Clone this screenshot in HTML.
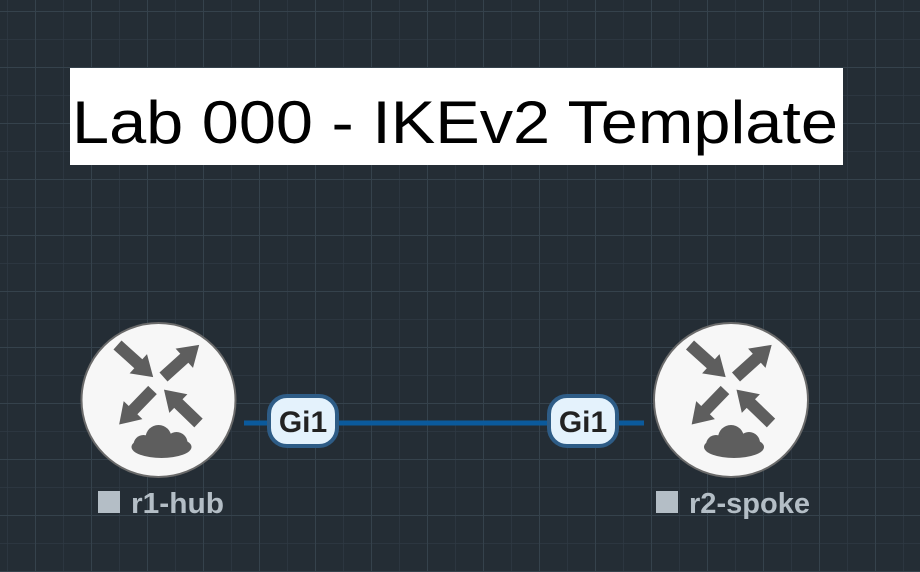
<!DOCTYPE html>
<html><head><meta charset="utf-8"><style>
html,body{margin:0;padding:0;background:#242d35;}
svg{display:block}
</style></head><body>
<svg width="920" height="572" viewBox="0 0 920 572" xmlns="http://www.w3.org/2000/svg">
<defs>
<pattern id="minor" x="7" y="11" width="28" height="28" patternUnits="userSpaceOnUse">
<path d="M0 0H28M0 0V28" stroke="#2e3a43" stroke-width="1.5" fill="none"/>
</pattern>
<pattern id="major" x="35" y="11" width="56" height="56" patternUnits="userSpaceOnUse">
<path d="M0 0H56M0 0V56" stroke="#35424c" stroke-width="2" fill="none"/>
</pattern>
<g id="arr"><path d="M0 -6H28V-13L48 0L28 13V6H0Z" fill="#5e5e5e"/></g>
<g id="router">
<circle r="77" fill="#f7f7f7" stroke="#6a6a6a" stroke-width="2"/>
<use href="#arr" transform="translate(-41,-55) rotate(42)"/>
<use href="#arr" transform="translate(5,-23) rotate(-42)"/>
<use href="#arr" transform="translate(-6,-10) rotate(134)"/>
<use href="#arr" transform="translate(40,23) rotate(-136)"/>
<g fill="#5e5e5e">
<ellipse cx="3" cy="47" rx="30" ry="11"/>
<circle cx="0" cy="38" r="13"/>
<circle cx="18" cy="43" r="11"/>
<circle cx="-15" cy="45" r="10"/>
</g>
</g>
</defs>
<rect width="920" height="572" fill="#242d35"/>
<rect width="920" height="572" fill="url(#minor)"/>
<rect width="920" height="572" fill="url(#major)"/>
<rect x="70" y="68" width="773" height="97" fill="#fff"/>
<text x="72" y="143" font-family="Liberation Sans, sans-serif" font-size="60" fill="#000" textLength="766" lengthAdjust="spacingAndGlyphs">Lab 000 - IKEv2 Template</text>
<line x1="244" y1="423" x2="644" y2="423" stroke="#0b5a9c" stroke-width="5"/>
<use href="#router" transform="translate(158.5,400)"/>
<use href="#router" transform="translate(731,400)"/>
<rect x="269" y="396" width="68" height="50" rx="18" fill="#e4f2fc" stroke="#2e5c86" stroke-width="4"/>
<text x="303" y="432" text-anchor="middle" font-family="Liberation Sans, sans-serif" font-weight="bold" font-size="30" fill="#222">Gi1</text>
<rect x="549" y="396" width="68" height="50" rx="18" fill="#e4f2fc" stroke="#2e5c86" stroke-width="4"/>
<text x="583" y="432" text-anchor="middle" font-family="Liberation Sans, sans-serif" font-weight="bold" font-size="30" fill="#222">Gi1</text>
<rect x="98" y="491" width="22" height="22" fill="#b4bec6"/>
<text x="131" y="513" font-family="Liberation Sans, sans-serif" font-weight="bold" font-size="29" fill="#b4bec6" textLength="93" lengthAdjust="spacingAndGlyphs">r1-hub</text>
<rect x="656" y="491" width="22" height="22" fill="#b4bec6"/>
<text x="689" y="513" font-family="Liberation Sans, sans-serif" font-weight="bold" font-size="29" fill="#b4bec6" textLength="121" lengthAdjust="spacingAndGlyphs">r2-spoke</text>
</svg>
</body></html>
